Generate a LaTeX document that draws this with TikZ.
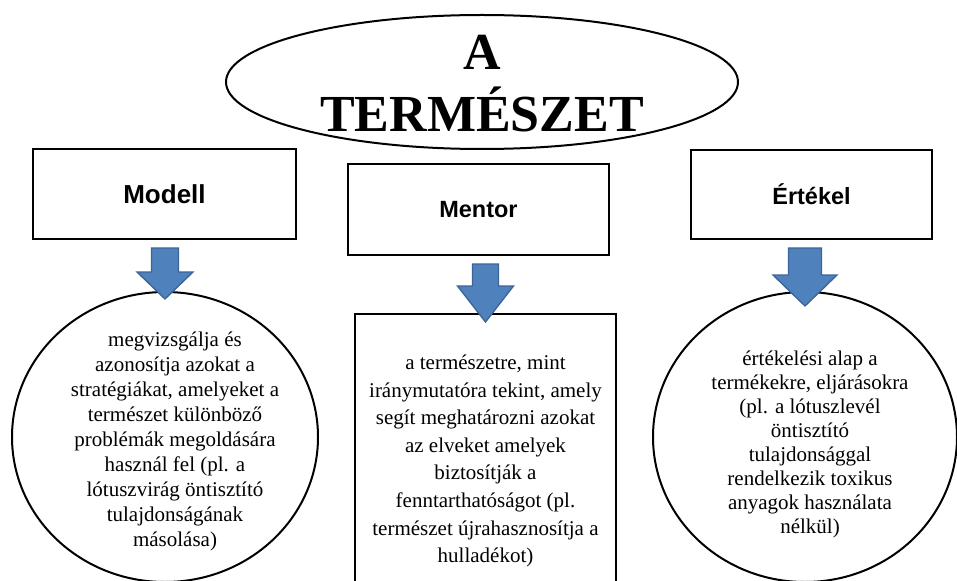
\documentclass[tikz,border=0pt]{standalone}
\usepackage{fontspec}
\setmainfont{Liberation Serif}
\setsansfont{Liberation Sans}
\usetikzlibrary{shapes.geometric,calc}

\definecolor{arrowblue}{HTML}{4F81BD}
\definecolor{arrowline}{HTML}{3A6596}

\newcommand{\bigarrow}[6]{%
  \filldraw[big arrow] let \p1=(#1.south), \p2=(#2.north) in
    (\x2-#4,\y1-6pt) -- (\x2+#4,\y1-6pt) -- (\x2+#4,\y2-#3+#6)
    -- (\x2+#5,\y2-#3+#6) -- (\x2,\y2-#3) -- (\x2-#5,\y2-#3+#6)
    -- (\x2-#4,\y2-#3+#6) -- cycle;}

\begin{document}
\begin{tikzpicture}[x=0.75pt,y=-0.75pt,
    main shape/.style={draw,line width=1.5pt,inner sep=0pt},
    title text/.style={align=center,inner sep=0pt,font=\bfseries\fontsize{39}{46.5}\selectfont},
    head node/.style={main shape,font=\sffamily\bfseries\fontsize{17.6}{21}\selectfont},
    body text/.style={align=center,inner sep=0pt,font=\fontsize{15.75}{18.75}\selectfont},
    big arrow/.style={fill=arrowblue,draw=arrowline,line width=1pt,line join=miter}]
    \clip (0,0) rectangle (957,581);
    \node[main shape,ellipse,minimum width=384pt,minimum height=100.5pt] (nature) at (482,82) {};
    \node[title text] (naturetext) at (482,84) {A\\TERMÉSZET};
    \node[head node,minimum width=197.25pt,minimum height=67.5pt,
      font=\sffamily\bfseries\fontsize{19.5}{23}\selectfont] (modell) at (164.5,194) {Modell};
    \node[head node,minimum width=195.75pt,minimum height=68.25pt] (mentor) at (478.5,209.5) {Mentor};
    \node[head node,minimum width=180.75pt,minimum height=66.75pt] (ertekel) at (811.5,194.5) {Értékel};
    \node[main shape,ellipse,minimum width=229.5pt,minimum height=217.5pt] (modellkor) at (165,437) {};
    \node[main shape,minimum width=195.75pt,minimum height=220.5pt] (mentorbox) at (485.5,461) {};
    \node[main shape,ellipse,minimum width=228pt,minimum height=217.5pt] (ertekelkor) at (805,437) {};
    \node[body text] (modelltext) at (175,441) {megvizsgálja és\\azonosítja azokat a\\stratégiákat, amelyeket a\\természet különböző\\problémák megoldására\\használ fel (pl. a\\lótuszvirág öntisztító\\tulajdonságának\\másolása)};
    \node[body text,font=\fontsize{15.75}{20.7}\selectfont] (mentortext) at (mentorbox.center) {a természetre, mint\\iránymutatóra tekint, amely\\segít meghatározni azokat\\az elveket amelyek\\biztosítják a\\fenntarthatóságot (pl.\\természet újrahasznosítja a\\hulladékot)};
    \node[body text,font=\fontsize{15.75}{18}\selectfont] (ertekeltext) at (810,444) {értékelési alap a\\termékekre, eljárásokra\\(pl. a lótuszlevél\\öntisztító\\tulajdonsággal\\rendelkezik toxikus\\anyagok használata\\nélkül)};
    \bigarrow{modell}{modellkor}{6pt}{10.1pt}{21pt}{20.25pt}
    \bigarrow{mentor}{mentorbox}{6.75pt}{9.75pt}{21pt}{27pt}
    \bigarrow{ertekel}{ertekelkor}{11.25pt}{12.4pt}{24pt}{23.25pt}
\end{tikzpicture}
\end{document}
